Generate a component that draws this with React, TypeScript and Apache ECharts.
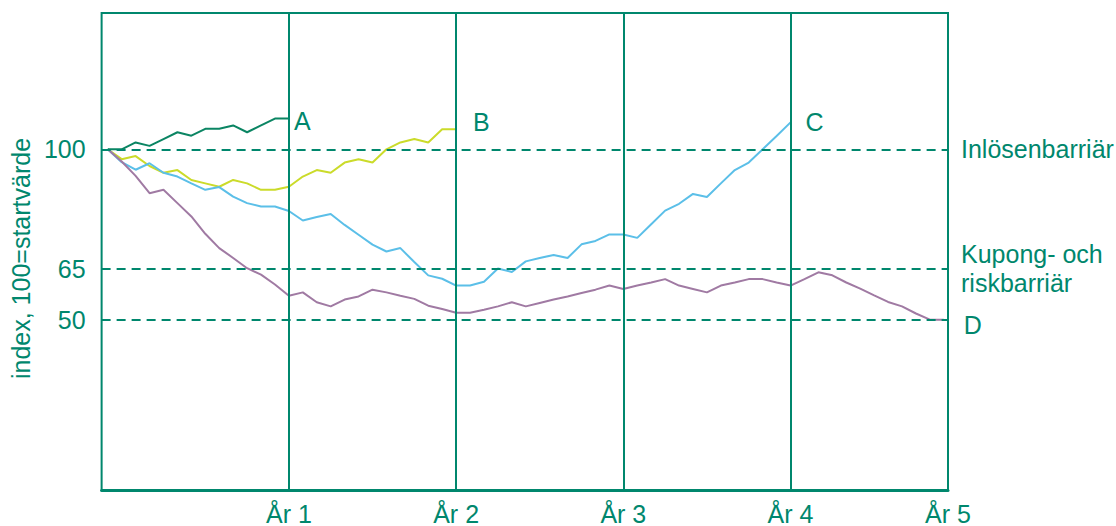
import React, { useEffect, useRef } from "react";
import * as echarts from "echarts";

// months, start point at month -1 (value 100)
const START_MONTH = -1;
const yearMonths = [12, 24, 36, 48];
const yearLabels = ["År 1", "År 2", "År 3", "År 4", "År 5"];
const barrierLevels = [100, 65, 50];
const barrierNames = ["Inlösenbarriär", "Kupong- och\nriskbarriär", ""];

const seriesA = [100, 100, 102, 101, 103, 105, 104, 106, 106, 107, 105, 107, 109, 109];
const seriesB = [100, 97.1, 98, 95.1, 93.1, 93.9, 91, 90, 89, 91, 90, 88.1, 88.1, 89, 92, 93.9, 93.1, 96.1, 97.1, 96.1, 100, 102, 103, 102, 105.9, 105.9];
const seriesC = [100, 96.2, 94, 95.9, 93.1, 92, 90, 88.1, 88.9, 86.1, 84.2, 83.2, 83.2, 81.9, 79.1, 80.1, 81, 77.8, 74.9, 72, 70, 71, 66.9, 63, 62, 60, 60, 61.1, 65, 64, 67.1, 68.1, 69, 68.1, 72.1, 73.1, 75, 75, 74, 78, 82, 84, 86.9, 86, 90, 93.9, 96.1, 100, 103.9, 107.9];
const seriesD = [100, 96.4, 92.2, 87.1, 88.1, 84.2, 80.3, 75.2, 71, 68.1, 65.1, 63.2, 60.3, 57, 58, 55.1, 53.9, 55.9, 56.8, 58.8, 58, 57, 56.1, 54.1, 53.1, 52, 52, 52.9, 53.9, 55.1, 53.9, 54.9, 55.9, 56.8, 57.8, 58.8, 60, 59, 60, 60.9, 61.9, 60, 59, 58, 60, 60.9, 61.9, 61.9, 60.9, 60, 61.9, 63.9, 63, 60.9, 59.1, 57.1, 55.2, 53.9, 51.8, 50, 50];
const seriesNames = ["A", "B", "C", "D"];

const X_MIN = -1.44;
const X_MAX = 59.3;

const GREEN = "#00876d";
const FONT = "'Liberation Sans', Arial, Helvetica, sans-serif";
const FS = 25;

const toPairs = (vals: number[]) => vals.map((v, i) => [START_MONTH + i, v]);

export default function App() {
  const ref = useRef<HTMLDivElement>(null);
  useEffect(() => {
    if (!ref.current) return;
    const chart = echarts.init(ref.current, undefined, { renderer: "svg" });
    const mkSeries = (name: string, vals: number[], color: string, offset: number[]) => ({
      name,
      type: "line",
      data: toPairs(vals),
      showSymbol: false,
      symbol: "none",
      lineStyle: { color, width: 2 },
      itemStyle: { color },
      z: 3,
      endLabel: {
        show: true,
        formatter: name,
        color: GREEN,
        fontSize: FS,
        fontFamily: FONT,
        distance: 5,
        offset,
      },
    });
    const option: any = {
      animation: false,
      grid: {
        left: 101,
        right: 168,
        top: 13,
        bottom: 35,
        show: true,
        borderColor: GREEN,
        borderWidth: 2,
        containLabel: false,
      },
      xAxis: {
        type: "value",
        min: X_MIN,
        max: X_MAX,
        axisLine: { show: true, lineStyle: { color: GREEN, width: 3 } },
        axisTick: { show: false },
        splitLine: { show: false },
        axisLabel: {
          customValues: [...yearMonths, X_MAX],
          formatter: (v: number) => yearLabels[Math.round(v / 12) - 1] || "",
          color: GREEN,
          fontSize: FS,
          fontFamily: FONT,
          margin: 11,
        },
      },
      yAxis: {
        type: "value",
        min: 0,
        max: 140,
        interval: 10,
        axisLine: { show: false },
        axisTick: { show: false },
        splitLine: { show: false },
        axisLabel: {
          customValues: barrierLevels,
          color: GREEN,
          fontSize: FS,
          fontFamily: FONT,
          margin: 16,
        },
        name: "index, 100=startvärde",
        nameLocation: "middle",
        nameRotate: 90,
        nameGap: 63,
        nameTextStyle: { color: GREEN, fontSize: FS, fontFamily: FONT, padding: [0, 14, 0, 0] },
      },
      series: [
        {
          name: "lines",
          type: "line",
          data: [],
          z: 2,
          markLine: {
            silent: true,
            symbol: "none",
            animation: false,
            data: [
              ...barrierLevels.map((lv, i) => ({
                yAxis: lv,
                lineStyle: { color: GREEN, width: 2, type: [9, 6] },
                label: {
                  show: barrierNames[i] !== "",
                  formatter: barrierNames[i],
                  position: "end",
                  distance: 13,
                  color: GREEN,
                  fontSize: FS,
                  fontFamily: FONT,
                  lineHeight: 29,
                },
              })),
              ...yearMonths.map((m) => ({
                xAxis: m,
                lineStyle: { color: GREEN, width: 2, type: "solid" },
                label: { show: false },
              })),
            ],
          },
        },
        mkSeries(seriesNames[1], seriesB, "#cbdb2a", [12, -7]),
        mkSeries(seriesNames[2], seriesC, "#5bbfe8", [10, 0]),
        mkSeries(seriesNames[3], seriesD, "#a07aa3", [15, 5]),
        mkSeries(seriesNames[0], seriesA, "#0b8563", [0, 2]),
      ],
    };
    chart.setOption(option);
    return () => chart.dispose();
  }, []);
  return (
    <div
      ref={ref}
      style={{ position: "fixed", left: 0, top: 0, width: 1116, height: 526, background: "#fff" }}
    />
  );
}
